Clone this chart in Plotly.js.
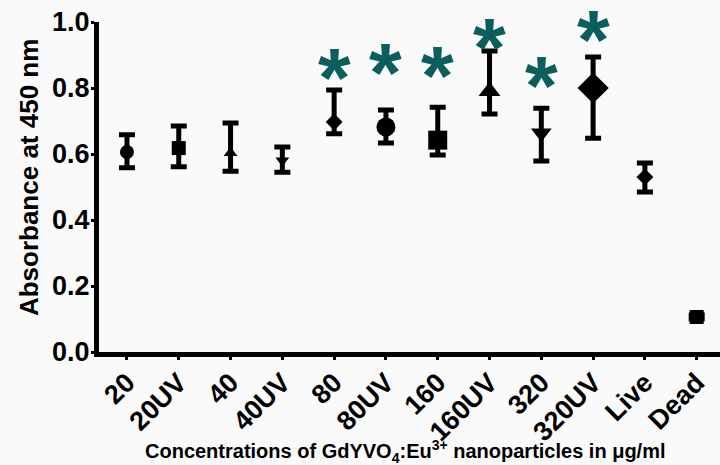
<!DOCTYPE html>
<html>
<head>
<meta charset="utf-8">
<script src="https://cdn.plot.ly/plotly-3.0.1.min.js"></script>
<style>html,body{margin:0;padding:0;background:#fafafa;}#chart{width:720px;height:465px;}</style>
</head>
<body>
<div id="chart"></div>
<script>
// Data
const categories = ['20','20UV','40','40UV','80','80UV','160','160UV','320','320UV','Live','Dead'];
const means = [0.606,0.618,0.603,0.580,0.697,0.682,0.642,0.790,0.664,0.800,0.530,0.106];
const upperBounds = [0.658,0.685,0.694,0.621,0.794,0.733,0.742,0.912,0.739,0.894,0.573,0.112];
const lowerBounds = [0.558,0.561,0.548,0.545,0.661,0.633,0.597,0.721,0.579,0.648,0.485,0.100];
const starCategories = ['80','80UV','160','160UV','320','320UV'];
const starY = [0.870,0.885,0.876,0.961,0.845,0.985];
const yTickVals = [0,0.2,0.4,0.6,0.8,1.0];
const yTickText = ['0.0','0.2','0.4','0.6','0.8','1.0'];
const xTitle = 'Concentrations of GdYVO<sub>4</sub>:Eu<sup>3+</sup> nanoparticles in μg/ml';
const yTitle = 'Absorbance at 450 nm';

// Styles (separate from data)
const markerSymbols = ['circle','square','triangle-up','triangle-down','diamond','circle','square','triangle-up','triangle-down','diamond','diamond','square'];
const markerSizes = [14,14,12,12,13,19,19,19,18,24,13,14];

const plus = means.map((m,i)=>upperBounds[i]-m);
const minus = means.map((m,i)=>m-lowerBounds[i]);
const idx = categories.map((c,i)=>i);
const starX = starCategories.map(c=>categories.indexOf(c));

const FONT = 'Arial, "Liberation Sans", sans-serif';

const traces = [
  {
    type:'scatter', mode:'markers', x: idx, y: means,
    marker:{symbol: markerSymbols, size: markerSizes, color:'#000', opacity:1, line:{width:0}},
    error_y:{type:'data', symmetric:false, array: plus, arrayminus: minus, color:'#000', thickness:5, width:8},
    hoverinfo:'skip', cliponaxis:false
  }
];

const annotations = starX.map((x,i)=>({
  x: x, y: starY[i], xref:'x', yref:'y',
  text:'*', showarrow:false, yshift:-13,
  font:{family: FONT, size: 84, color:'#0b5e5c', weight:'bold'}
}));
annotations.push({
  xref:'paper', yref:'paper', x:0, y:0.527, xshift:-70, xanchor:'center', yanchor:'middle',
  text: yTitle, textangle:-90, showarrow:false,
  font:{family: FONT, size:26, weight:'bold', color:'#000'}
});
annotations.push({
  xref:'paper', yref:'paper', x:0.493, y:0, yshift:-99, xanchor:'center', yanchor:'middle',
  text: xTitle, showarrow:false,
  font:{family: FONT, size:20, weight:'bold', color:'#000'}
});

const layout = {
  width:720, height:465,
  paper_bgcolor:'#fafafa', plot_bgcolor:'#fafafa',
  showlegend:false,
  margin:{l:99, r:0, t:22, b:113},
  font:{family: FONT, color:'#000'},
  annotations: annotations,
  xaxis:{
    range:[-0.54, 11.45],
    tickvals: idx, ticktext: categories,
    tickangle:-45,
    tickfont:{family: FONT, size:27, weight:'bold'},
    ticklabelstandoff:-4,
    showline:true, linewidth:5, linecolor:'#000',
    ticks:'outside', ticklen:3, tickwidth:3, tickcolor:'#000',
    showgrid:false, zeroline:false
  },
  yaxis:{
    range:[0,1.0],
    tickvals: yTickVals, ticktext: yTickText,
    tickfont:{family: FONT, size:27, weight:'bold'},
    ticklabelstandoff:-4,
    showline:true, linewidth:5, linecolor:'#000',
    ticks:'outside', ticklen:3, tickwidth:3, tickcolor:'#000',
    showgrid:false, zeroline:false
  }
};

Plotly.newPlot('chart', traces, layout, {displayModeBar:false, staticPlot:true});
</script>
</body>
</html>
